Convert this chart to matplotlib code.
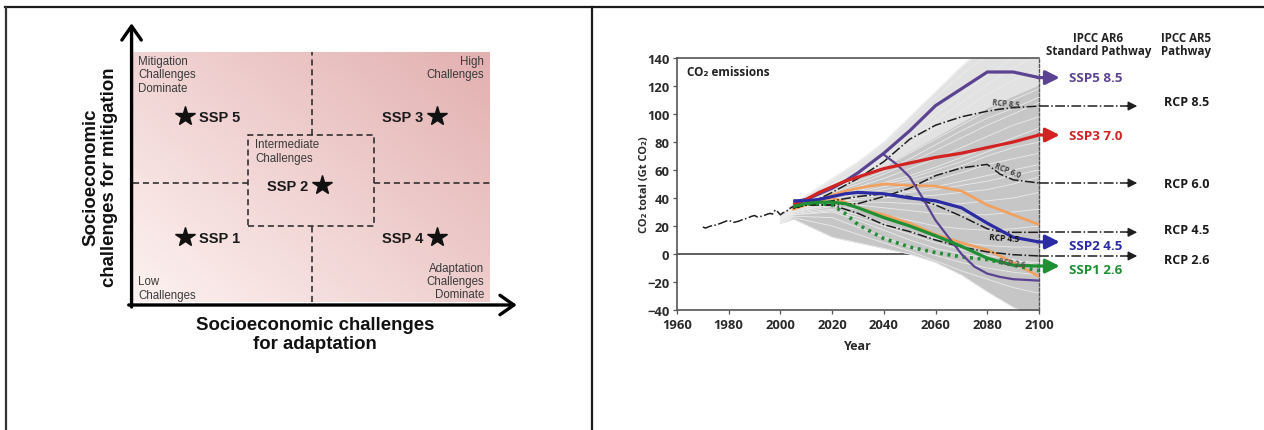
import numpy as np
import matplotlib
matplotlib.use("Agg")
import matplotlib.pyplot as plt
from matplotlib.lines import Line2D
from matplotlib.patches import Rectangle

plt.rcParams['font.family'] = ['Liberation Sans', 'DejaVu Sans']
RFONT = ['Open Sans', 'DejaVu Sans']

# ---------------- SSP challenge space (left) ----------------
ssp_names = ['SSP 1', 'SSP 2', 'SSP 3', 'SSP 4', 'SSP 5']
ssp_adapt = [0.146, 0.529, 0.852, 0.852, 0.146]     # challenges for adaptation
ssp_mitig = [0.260, 0.468, 0.744, 0.260, 0.744]     # challenges for mitigation
ssp_label_side = ['right', 'left', 'left', 'left', 'right']

# ---------------- CO2 emission pathways (right) ----------------
hist_years = [1970, 1971, 1973, 1975, 1977, 1979, 1980, 1982, 1984, 1985, 1987,
              1989, 1990, 1991, 1993, 1995, 1996, 1997, 1998, 1999, 2000, 2001,
              2002, 2003, 2004, 2005]
hist_co2 = [19.3, 18.5, 20.0, 20.7, 22.0, 23.5, 24.0, 22.6, 23.5, 24.3, 25.5,
            27.0, 27.5, 26.5, 27.0, 28.5, 29.0, 28.5, 31.5, 30.0, 28.0, 29.5,
            30.0, 31.5, 33.0, 34.0]

scen_years = [2000, 2005, 2020, 2030, 2040, 2050, 2060, 2070, 2080, 2090, 2100]
scenarios = [
    [27, 36, 52, 64, 78, 95, 112, 128, 142, 155, 165],
    [27, 36, 54, 66, 80, 98, 116, 134, 150, 162, 172],
    [26, 35, 50, 60, 72, 86, 100, 114, 128, 140, 150],
    [26, 35, 49, 58, 69, 82, 95, 108, 121, 133, 142],
    [26, 34, 48, 57, 67, 78, 90, 102, 114, 124, 132],
    [25, 34, 46, 54, 62, 72, 82, 92, 102, 110, 118],
    [25, 33, 45, 52, 59, 68, 78, 88, 97, 104, 112],
    [25, 33, 44, 50, 57, 65, 74, 83, 92, 100, 108],
    [25, 33, 43, 48, 54, 61, 68, 76, 84, 92, 98],
    [24, 32, 42, 46, 51, 56, 62, 69, 76, 83, 90],
    [24, 32, 41, 45, 50, 54, 60, 66, 73, 80, 86],
    [24, 32, 40, 44, 48, 52, 57, 63, 70, 76, 80],
    [24, 31, 39, 43, 46, 49, 53, 58, 64, 68, 72],
    [24, 31, 38, 41, 43, 45, 48, 52, 56, 60, 64],
    [23, 31, 38, 40, 42, 44, 46, 49, 52, 56, 60],
    [23, 30, 37, 39, 40, 41, 42, 44, 46, 50, 55],
    [23, 30, 36, 37, 37, 36, 35, 36, 38, 40, 44],
    [23, 30, 35, 35, 33, 31, 29, 28, 28, 30, 32],
    [23, 29, 34, 32, 28, 24, 20, 18, 17, 18, 20],
    [23, 29, 32, 28, 22, 16, 11, 8, 6, 5, 5],
    [22, 28, 31, 26, 20, 14, 8, 3, -1, -4, -8],
    [22, 28, 30, 24, 17, 10, 4, 0, -3, -5, -6],
    [22, 27, 26, 19, 12, 5, -1, -6, -10, -13, -15],
    [22, 26, 20, 14, 8, 2, -5, -12, -18, -24, -28],
    [22, 25, 12, 8, 4, 0, -6, -15, -27, -38, -46],
]

ssp_years = [2005, 2010, 2015, 2020, 2025, 2030, 2040, 2050, 2060, 2070, 2080, 2090, 2100]
ssp585 = [37, 39, 43, 47, 52, 58, 72, 88, 106, 118, 130, 130, 126]
ssp370 = [35, 39, 44, 48, 52, 55, 61, 65, 69, 72, 76, 80, 85]
ssp245 = [38, 38, 39, 41, 43, 44, 43, 40, 38, 33, 22, 12, 8.6]
ssp126 = [34, 36, 37, 37, 36, 33, 26, 20, 13, 5.5, -3, -8, -8.6]
ssp119 = [34, 36, 36, 35, 29, 21, 11, 5, 1, -2, -4, -8, -12]
ssp460 = [33, 36, 39, 42, 45, 47, 50, 49, 48.5, 45, 35, 28, 21]
ssp434 = [32, 35, 38, 40, 37, 33, 28, 22, 14, 8, 3, -6, -16]

os_years = [2040, 2045, 2050, 2055, 2060, 2065, 2070, 2075, 2080, 2085, 2090, 2100]
ssp534os = [71, 64, 55, 40, 24, 12, 0, -9, -14, -16.4, -18, -19]

rcp_years = [2005, 2010, 2020, 2030, 2040, 2050, 2060, 2070, 2080, 2085, 2090, 2100]
rcp85 = [33, 35, 44, 54, 66, 82, 92, 98, 102, 103.5, 104.5, 105.7]
rcp60 = [33, 35, 35, 36, 41, 47, 56, 61.5, 64, 57, 53, 50.7]
rcp45 = [33, 35, 38, 41, 43, 41, 35, 27, 18, 16, 15.5, 15.5]
rcp26 = [33, 35, 35, 29, 21, 16, 10, 5, 1.5, 0.5, -0.5, -1.4]

ssp_tags = ['SSP5 8.5', 'SSP3 7.0', 'SSP2 4.5', 'SSP1 2.6']
rcp_tags = ['RCP 8.5', 'RCP 6.0', 'RCP 4.5', 'RCP 2.6']

PURPLE, RED, BLUE, GREEN, ORANGE = '#5b4391', '#d32222', '#2b2ba3', '#1f8f33', '#f2a05e'
DD = '#1e1e1e'

fig = plt.figure(figsize=(12.64, 4.31), dpi=100)
W, H = 1264, 431

# table borders
fig.add_artist(Line2D([5 / W, 1.0], [1 - 8 / H, 1 - 8 / H], color='#1a1a1a', lw=1.6))
fig.add_artist(Line2D([5.5 / W, 5.5 / W], [0, 1 - 8 / H], color='#333333', lw=1.6))
fig.add_artist(Line2D([592 / W, 592 / W], [0, 1 - 8 / H], color='#1a1a1a', lw=1.6))

# ---------------- left panel ----------------
axL = fig.add_axes([133 / W, (H - 303) / H, 357 / W, 250 / H])
axL.set_xlim(0, 1)
axL.set_ylim(0, 1)
axL.axis('off')

gx, gy = np.meshgrid(np.linspace(0, 1, 240), np.linspace(0, 1, 170))
t = np.clip(0.55 * gx + 0.45 * gy, 0, 1)[..., None]
light = np.array([0.99, 0.95, 0.945])
dark = np.array([0.89, 0.69, 0.69])
axL.imshow(light + (dark - light) * t, extent=(0, 1, 0, 1), origin='lower',
           aspect='auto', zorder=0)

dash = dict(color='#222222', lw=1.1, linestyle=(0, (4, 2.5)), zorder=2)
axL.plot([0.5, 0.5], [0.669, 1.0], **dash)
axL.plot([0.5, 0.5], [0.0, 0.304], **dash)
axL.plot([0.0, 0.321], [0.476, 0.476], **dash)
axL.plot([0.675, 1.005], [0.476, 0.476], clip_on=False, **dash)
axL.add_patch(Rectangle((0.321, 0.304), 0.354, 0.365, fill=False, ec='#222222',
                        lw=1.1, linestyle=(0, (4, 2.5)), zorder=2))

axL.plot(ssp_adapt, ssp_mitig, linestyle='none', marker='*', ms=15,
         color='#111111', zorder=3)
for name, xa, ym, side in zip(ssp_names, ssp_adapt, ssp_mitig, ssp_label_side):
    off = 10 if side == 'right' else -10
    axL.annotate(name, (xa, ym), xytext=(off, -0.5), textcoords='offset points',
                 ha='left' if side == 'right' else 'right', va='center',
                 fontsize=10.5, fontweight='bold', color='#1a1a1a')

corner = dict(fontsize=8.3, color='#3a3a3a', linespacing=1.15)
axL.text(0.014, 0.988, 'Mitigation\nChallenges\nDominate', ha='left', va='top', **corner)
axL.text(0.983, 0.988, 'High\nChallenges', ha='right', va='top', multialignment='right', **corner)
axL.text(0.342, 0.655, 'Intermediate\nChallenges', ha='left', va='top', **corner)
axL.text(0.014, 0.006, 'Low\nChallenges', ha='left', va='bottom', **corner)
axL.text(0.983, 0.006, 'Adaptation\nChallenges\nDominate', ha='right', va='bottom',
         multialignment='right', **corner)

arr = dict(arrowstyle='->,head_length=0.5,head_width=0.35', lw=2.4, color='#000000',
           shrinkA=0, shrinkB=0, mutation_scale=20)
axL.annotate('', xy=(1.075, -0.012), xytext=(-0.012, -0.012), arrowprops=arr,
             annotation_clip=False)
axL.annotate('', xy=(-0.004, 1.115), xytext=(-0.004, -0.02), arrowprops=arr,
             annotation_clip=False)

fig.text(315 / W, 1 - 335 / H, 'Socioeconomic challenges\nfor adaptation', ha='center',
         va='center', fontsize=13.4, fontweight='bold', linespacing=1.1, color='#111111')
fig.text(100 / W, 1 - 177 / H, 'Socioeconomic\nchallenges for mitigation', ha='center',
         va='center', rotation=90, fontsize=13.4, fontweight='bold', linespacing=1.1,
         color='#111111')

# ---------------- right panel ----------------
axR = fig.add_axes([677 / W, 120 / H, 362 / W, 252 / H])
axR.set_xlim(1960, 2100)
axR.set_ylim(-40, 140)

S = np.array(scenarios, dtype=float)
lo = S.min(axis=0)
hi = S.max(axis=0)
mid = np.percentile(S, 80, axis=0)
axR.fill_between(scen_years, lo, hi, color='#e2e2e2', lw=0, zorder=1)
axR.fill_between(scen_years, lo, mid, color='#c6c6c6', lw=0, zorder=1.05)
for row in scenarios:
    axR.plot(scen_years, row, color='#ebebeb', lw=0.6, zorder=1.1)

axR.axhline(0, color='#444444', lw=1.2, zorder=0.5)

axR.plot(hist_years, hist_co2, color=DD, lw=1.1, ls='-.', zorder=4)

axR.plot(ssp_years, ssp460, color=ORANGE, lw=1.9, zorder=3)
axR.plot(ssp_years, ssp434, color=ORANGE, lw=1.9, zorder=3)

for vals in (rcp85, rcp60, rcp45, rcp26):
    axR.plot(rcp_years, vals, color=DD, lw=1.1, ls='-.', zorder=3.5)

axR.plot(ssp_years, ssp119, color=GREEN, lw=2.6, linestyle=(0, (0.8, 1.3)), zorder=4)
axR.plot(os_years, ssp534os, color=PURPLE, lw=1.6, zorder=4)
ssp_main = [(ssp585, PURPLE), (ssp370, RED), (ssp245, BLUE), (ssp126, GREEN)]
for vals, c in ssp_main:
    axR.plot(ssp_years, vals, color=c, lw=2.3, zorder=4.2, solid_capstyle='butt')

# pathway arrows and names beyond the year axis
ssp_label_y = [126, 84.5, 6.4, -11]
for (vals, c), tag, ly in zip(ssp_main, ssp_tags, ssp_label_y):
    axR.annotate('', xy=(2108, vals[-1]), xytext=(2099.5, vals[-1]),
                 arrowprops=dict(arrowstyle='-|>,head_length=0.7,head_width=0.35',
                                 color=c, lw=2.3, shrinkA=0, shrinkB=0, mutation_scale=12),
                 annotation_clip=False)
    axR.text(2111.5, ly, tag, color=c, fontsize=9.6, fontweight='bold', va='center',
             ha='left', family=RFONT)

rcp_label_y = [108.8, 50, 17.4, -3.6]
for vals, tag, ly in zip((rcp85, rcp60, rcp45, rcp26), rcp_tags, rcp_label_y):
    axR.plot([2100, 2135], [vals[-1], vals[-1]], color=DD, lw=1.1, ls='-.',
             clip_on=False, zorder=3.5)
    axR.annotate('', xy=(2138, vals[-1]), xytext=(2134, vals[-1]),
                 arrowprops=dict(arrowstyle='-|>,head_length=0.6,head_width=0.3',
                                 color=DD, lw=1.0, shrinkA=0, shrinkB=0, mutation_scale=9),
                 annotation_clip=False)
    axR.text(2148.3, ly, tag, color='#1a1a1a', fontsize=9, fontweight='bold',
             va='center', ha='left', family=RFONT)

axR.text(2123, 150, 'IPCC AR6\nStandard Pathway', ha='center', va='center',
         fontsize=8.3, fontweight='bold', color='#222222', linespacing=1.05, family=RFONT)
axR.text(2157, 150, 'IPCC AR5\nPathway', ha='center', va='center',
         fontsize=8.3, fontweight='bold', color='#222222', linespacing=1.05, family=RFONT)

# labels written along the RCP curves
axR.text(2087, 108, 'RCP 8.5', fontsize=5.5, color='#444444', rotation=-6,
         ha='center', va='center', family=RFONT, fontweight='bold', zorder=5)
axR.text(2088, 60, 'RCP 6.0', fontsize=5.5, color='#444444', rotation=-22,
         ha='center', va='center', family=RFONT, fontweight='bold', zorder=5)
axR.text(2086.5, 11.4, 'RCP 4.5', fontsize=6, color='#111111', rotation=-4,
         ha='center', va='center', family=RFONT, fontweight='bold', zorder=5)
axR.text(2089.5, -5.7, 'RCP 2.6', fontsize=5.5, color='#555555', rotation=-8,
         ha='center', va='center', family=RFONT, fontweight='bold', zorder=5)

axR.text(1964, 130, 'CO₂ emissions', fontsize=8.5, fontweight='bold', color='#222222',
         va='center', ha='left', family=RFONT)

axR.set_xticks(range(1960, 2101, 20))
axR.set_yticks(range(-40, 141, 20))
axR.tick_params(direction='out', length=3, width=0.9, color='#555555', pad=2.5,
                labelsize=9.4, labelcolor='#2a2a2a')
for lab in axR.get_xticklabels() + axR.get_yticklabels():
    lab.set_fontweight('bold')
    lab.set_family(RFONT)
for side in ('top', 'left', 'bottom'):
    axR.spines[side].set_color('#555555')
    axR.spines[side].set_linewidth(1.2)
axR.spines['right'].set_color('#555555')
axR.spines['right'].set_linewidth(1.0)
axR.spines['right'].set_linestyle((0, (2, 1.5)))

axR.set_xlabel('Year', fontsize=9, fontweight='bold', color='#2a2a2a', family=RFONT)
axR.xaxis.set_label_coords(0.5, -0.115)
axR.set_ylabel('CO₂ total (Gt CO₂)', fontsize=8, fontweight='bold', color='#2a2a2a',
               family=RFONT)
axR.yaxis.set_label_coords(-0.075, 0.5)

fig.savefig('out.png', dpi=100)
